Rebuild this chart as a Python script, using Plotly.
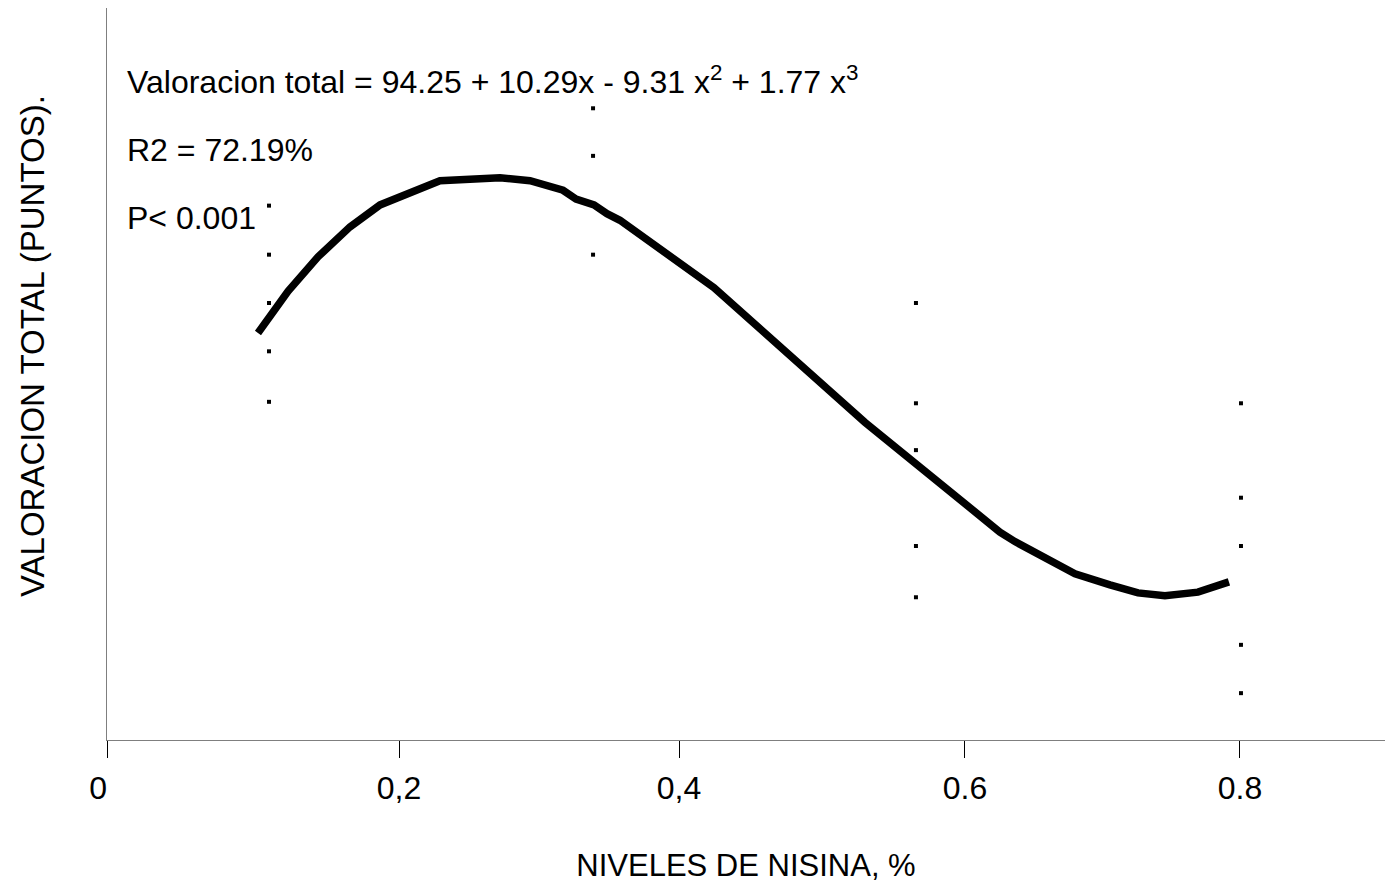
import plotly.graph_objects as go

# Fitted curve (x = nisin level %, y = total score, arbitrary units)
curve_x = [0.1066, 0.1278, 0.1490, 0.1716, 0.1928, 0.2351, 0.2775, 0.2987, 0.3220,
           0.3312, 0.3439, 0.3530, 0.3622, 0.4046, 0.4286, 0.5352, 0.6305, 0.6411, 0.6553,
           0.6637, 0.6835, 0.7082, 0.7280, 0.7470, 0.7703, 0.7922]
curve_y = [55.6, 61.3, 66.0, 70.1, 73.1, 76.4, 76.8, 76.4, 75.1,
           73.9, 73.1, 71.9, 71.0, 65.3, 61.8, 43.4, 28.4, 27.1, 25.7,
           24.7, 22.7, 21.2, 20.1, 19.7, 20.2, 21.6]

# Observed points
obs_x = [0.1144] * 5 + [0.3432] * 3 + [0.5712] * 5 + [0.8007] * 5
obs_y = [73.0, 66.3, 59.7, 53.1, 46.2,
         86.3, 79.8, 66.3,
         59.7, 46.0, 39.6, 26.5, 19.5,
         46.0, 33.1, 26.5, 13.0, 6.4]

tick_vals = [0, 0.2062, 0.4039, 0.6058, 0.8]
tick_text = ["0\u00a0\u00a0", "0,2", "0,4", "0.6", "0.8"]

FONT = "Liberation Sans, Arial, sans-serif"

fig = go.Figure()
fig.add_trace(go.Scatter(x=obs_x, y=obs_y, mode="markers",
                         marker=dict(symbol="square", size=4, color="black", line=dict(width=0)),
                         showlegend=False))
fig.add_trace(go.Scatter(x=curve_x, y=curve_y, mode="lines",
                         line=dict(color="black", width=7.5), showlegend=False))

fig.update_layout(
    width=1385, height=885,
    margin=dict(l=107, r=0, t=8, b=145),
    plot_bgcolor="white", paper_bgcolor="white",
    font=dict(family=FONT, size=32, color="black"),
    xaxis=dict(range=[0, 0.9024], tickvals=tick_vals, ticktext=tick_text,
               showline=True, linecolor="#7f7f7f", linewidth=1,
               ticks="outside", ticklen=17, tickcolor="black", tickwidth=1,
               showgrid=False, zeroline=False, ticklabelstandoff=3,
               tickfont=dict(size=32),
               title=dict(text="NIVELES DE NISINA, %", standoff=48, font=dict(size=31))),
    yaxis=dict(range=[0, 100], showline=True, linecolor="#7f7f7f", linewidth=1,
               showticklabels=False, ticks="", showgrid=False, zeroline=False),
    annotations=[
        dict(text="Valoracion total = 94.25 + 10.29x - 9.31 x<sup>2</sup> + 1.77 x<sup>3</sup>",
             xref="paper", yref="paper", x=0.0141, y=(740 - 80) / 732,
             xanchor="left", yanchor="middle", showarrow=False, font=dict(size=32)),
        dict(text="R2 = 72.19%", xref="paper", yref="paper", x=0.0141, y=(740 - 150) / 732,
             xanchor="left", yanchor="middle", showarrow=False, font=dict(size=32)),
        dict(text="P< 0.001", xref="paper", yref="paper", x=0.0141, y=(740 - 218) / 732,
             xanchor="left", yanchor="middle", showarrow=False, font=dict(size=32)),
        dict(text="VALORACION TOTAL (PUNTOS).", xref="paper", yref="paper",
             x=(33 - 107) / 1278, y=(740 - 346) / 732, textangle=-90,
             xanchor="center", yanchor="middle", showarrow=False, font=dict(size=33)),
    ],
)

fig.write_html("out.html")
